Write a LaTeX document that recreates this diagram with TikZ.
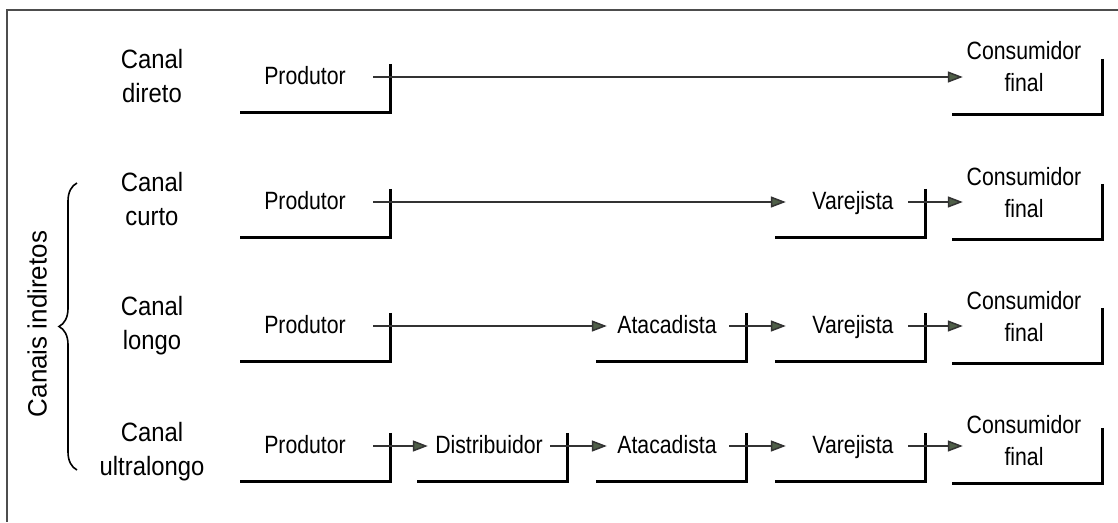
\documentclass[tikz,border=0pt]{standalone}
\usepackage{fontspec}
\setmainfont{Liberation Sans}
\usetikzlibrary{arrows.meta,calc,decorations.pathreplacing}
\definecolor{framegray}{HTML}{4D4D4D}
\definecolor{tipfill}{HTML}{4F5F48}
\definecolor{flowgray}{HTML}{333333}
% horizontally condensed text
\newcommand\sqz[2][0.85]{\scalebox{#1}[1]{#2}}
% arrow from a stage to the next one, at the level of the stage's label
\newcommand\flowline[2]{\draw[flow] ([shift={(-17,-11)}]#1.east) coordinate (fs) -- (fs -| #2.west);}

\begin{document}
\begin{tikzpicture}[x=1pt,y=-1pt,
  stage/.style={rectangle, minimum width=150pt, minimum height=48pt, inner sep=0pt},
  endstage/.style={stage, minimum height=55pt},
  rim/.style={line width=3pt, line join=miter, black},
  stagetext/.style={font=\fontsize{25}{32}\selectfont, inner sep=0pt, align=center, text depth=0pt},
  chantext/.style={font=\fontsize{26.5}{34}\selectfont, inner sep=0pt, align=center, text depth=0pt},
  flow/.style={line width=1.5pt, flowgray, -{Triangle[length=15pt,width=11pt,fill=tipfill]}, shorten >=-11pt},
  groupbrace/.style={decorate, decoration={brace, amplitude=18pt}, line width=1.6pt},
]
\useasboundingbox (0,0) rectangle (1118,522);

% outer frame (top and left sides only)
\draw[framegray, line width=2pt] (1118,10) -- (7,10) -- (7,522);

% channel names
\node[chantext] (ch1) at (152,75.5) {\sqz[0.9]{Canal}\\\sqz[0.9]{direto}};
\node[chantext] (ch2) at (152,198.5) {\sqz[0.9]{Canal}\\\sqz[0.9]{curto}};
\node[chantext] (ch3) at (152,323) {\sqz[0.9]{Canal}\\\sqz[0.9]{longo}};
\node[chantext] (ch4) at (152,448.5) {\sqz[0.9]{Canal}\\\sqz[0.9]{ultralongo}};

% indirect channels group
\node[chantext, rotate=90] (ind) at (37,324) {\sqz[0.98]{Canais indiretos}};
\draw[groupbrace] (77,470) -- (77,183);

% stage boxes (row: arrow level a, box centre at a+11)
\node[stage] (p1) at (315,88) {};
\node[endstage] (c1) at (1027,86.5) {};

\node[stage] (p2) at (315,213) {};
\node[stage] (v2) at (850,213) {};
\node[endstage] (c2) at (1027,211.5) {};

\node[stage] (p3) at (315,337) {};
\node[stage] (a3) at (671,337) {};
\node[stage] (v3) at (850,337) {};
\node[endstage] (c3) at (1027,335.5) {};

\node[stage] (p4) at (315,457) {};
\node[stage] (d4) at (492,457) {};
\node[stage] (a4) at (671,457) {};
\node[stage] (v4) at (850,457) {};
\node[endstage] (c4) at (1027,455.5) {};

% open boxes: bottom and right sides
\foreach \s in {p1,c1,p2,v2,c2,p3,a3,v3,c3,p4,d4,a4,v4,c4}
  \draw[rim] (\s.north east) -- (\s.south east) -- (\s.south west);

% stage labels
\node[stagetext] (tp1) at (305,75) {\sqz{Produtor}};
\node[stagetext] (tc1) at (1024,66) {\sqz{Consumidor}\\\sqz{final}};

\node[stagetext] (tp2) at (305,200) {\sqz{Produtor}};
\node[stagetext] (tv2) at (853,200) {\sqz{Varejista}};
\node[stagetext] (tc2) at (1024,192) {\sqz{Consumidor}\\\sqz{final}};

\node[stagetext] (tp3) at (305,324) {\sqz{Produtor}};
\node[stagetext] (ta3) at (667,324) {\sqz{Atacadista}};
\node[stagetext] (tv3) at (853,324) {\sqz{Varejista}};
\node[stagetext] (tc3) at (1024,316) {\sqz{Consumidor}\\\sqz{final}};

\node[stagetext] (tp4) at (305,444) {\sqz{Produtor}};
\node[stagetext] (td4) at (489,444) {\sqz{Distribuidor}};
\node[stagetext] (ta4) at (667,444) {\sqz{Atacadista}};
\node[stagetext] (tv4) at (853,444) {\sqz{Varejista}};
\node[stagetext] (tc4) at (1024,440) {\sqz{Consumidor}\\\sqz{final}};

% flows
\flowline{p1}{c1}
\flowline{p2}{v2}
\flowline{v2}{c2}
\flowline{p3}{a3}
\flowline{a3}{v3}
\flowline{v3}{c3}
\flowline{p4}{d4}
\flowline{d4}{a4}
\flowline{a4}{v4}
\flowline{v4}{c4}
\end{tikzpicture}
\end{document}
